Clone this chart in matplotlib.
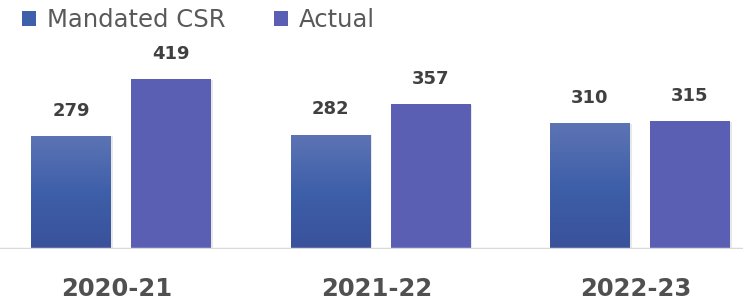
import matplotlib
matplotlib.use("Agg")
import matplotlib.pyplot as plt
import numpy as np
from matplotlib.colors import LinearSegmentedColormap
from matplotlib.patches import Rectangle, Patch

categories = ["2020-21", "2021-22", "2022-23"]
mandated = [279, 282, 310]
actual = [419, 357, 315]
series_names = ["Mandated CSR", "Actual"]

W, H = 743, 301
fig = plt.figure(figsize=(W / 100, H / 100), dpi=100)
ax = fig.add_axes([0, 52 / H, 1, 249 / H])

spacing = 259.5
bw = 80 / spacing
off = 50 / spacing
x = np.arange(len(categories))

grad = LinearSegmentedColormap.from_list("g", ["#3a519b", "#3e5fa9", "#5d74b4"])
actual_color = "#5b5fb3"
label_color = "#404040"

gradimg = np.linspace(0, 1, 256).reshape(-1, 1)
for i, v in enumerate(mandated):
    ax.add_patch(Rectangle((x[i] - off - bw / 2 + 0.006, 0), bw, v - 1.5, facecolor="#000000", alpha=0.09, lw=0, zorder=1))
    bars = ax.bar(x[i] - off, v, bw, color="none", zorder=2)
    im = ax.imshow(gradimg, cmap=grad, aspect="auto", origin="lower",
                   extent=[x[i] - off - bw / 2, x[i] - off + bw / 2, 0, v], zorder=2)
    im.set_clip_path(bars[0])
    ax.text(x[i] - off, v + 62, str(v), ha="center", va="center", fontsize=13,
            fontweight="bold", color=label_color)

for i, v in enumerate(actual):
    ax.add_patch(Rectangle((x[i] + off - bw / 2 + 0.006, 0), bw, v - 1.5, facecolor="#000000", alpha=0.09, lw=0, zorder=1))
    ax.bar(x[i] + off, v, bw, color=actual_color, zorder=2)
    ax.text(x[i] + off, v + 62, str(v), ha="center", va="center", fontsize=13,
            fontweight="bold", color=label_color)

ax.set_xlim(-121 / spacing, (W - 121) / spacing)
ax.set_ylim(0, 249 / 0.4057)
ax.axhline(0, color="#d9d9d9", lw=2.5, zorder=3)

for s in ax.spines.values():
    s.set_visible(False)
ax.set_yticks([])
ax.set_xticks(x - 0.015)
ax.set_xticklabels(categories, fontsize=17.5, fontweight="bold", color="#505050")
ax.tick_params(axis="x", length=0, pad=20)

handles = [Patch(facecolor="#3e5fa9"), Patch(facecolor=actual_color)]
fig.legend(handles, series_names, loc="upper left", bbox_to_anchor=(0.0, 1.045),
           ncol=2, frameon=False, fontsize=17.5, labelcolor="#595959",
           handlelength=0.58, handleheight=0.58, handletextpad=0.45, columnspacing=2.0)

fig.savefig("out.png", dpi=100)
